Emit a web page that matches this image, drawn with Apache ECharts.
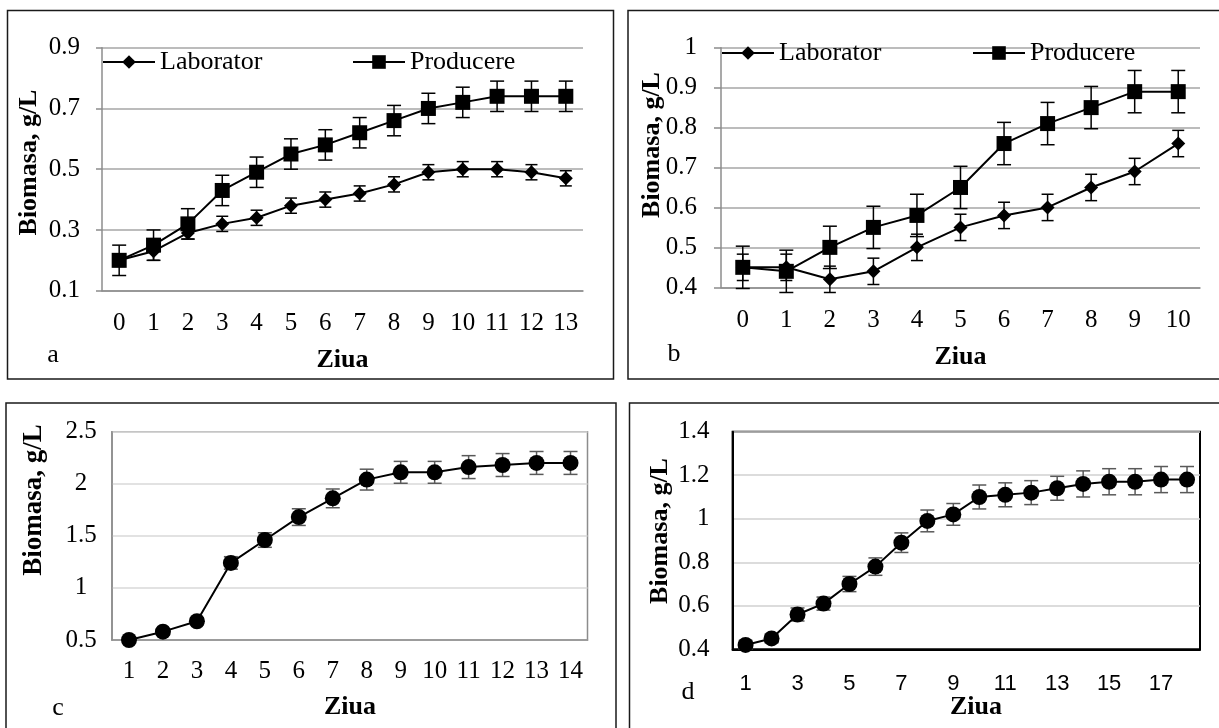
<!DOCTYPE html>
<html>
<head>
<meta charset="utf-8">
<script src="https://cdn.jsdelivr.net/npm/echarts@6/dist/echarts.min.js"></script>
<style>
  html, body { margin: 0; padding: 0; background: #fff; }
  #chart { width: 1219px; height: 728px; }
</style>
</head>
<body>
<div id="chart"></div>
<script>
// panel a
var daysA = ['0', '1', '2', '3', '4', '5', '6', '7', '8', '9', '10', '11', '12', '13'];
var labA = [0.20, 0.23, 0.29, 0.32, 0.34, 0.38, 0.40, 0.42, 0.45, 0.49, 0.50, 0.50, 0.49, 0.47];
var labErrA = [0.02, 0.03, 0.02, 0.025, 0.025, 0.025, 0.025, 0.025, 0.025, 0.025, 0.025, 0.025, 0.025, 0.025];
var prodA = [0.20, 0.25, 0.32, 0.43, 0.49, 0.55, 0.58, 0.62, 0.66, 0.70, 0.72, 0.74, 0.74, 0.74];
var prodErrA = [0.05, 0.05, 0.05, 0.05, 0.05, 0.05, 0.05, 0.05, 0.05, 0.05, 0.05, 0.05, 0.05, 0.05];

// panel b
var daysB = ['0', '1', '2', '3', '4', '5', '6', '7', '8', '9', '10'];
var labB = [0.45, 0.45, 0.42, 0.44, 0.50, 0.55, 0.58, 0.60, 0.65, 0.69, 0.76];
var labErrB = [0.033, 0.033, 0.033, 0.033, 0.033, 0.033, 0.033, 0.033, 0.033, 0.033, 0.033];
var prodB = [0.45, 0.44, 0.50, 0.55, 0.58, 0.65, 0.76, 0.81, 0.85, 0.89, 0.89];
var prodErrB = [0.053, 0.053, 0.053, 0.053, 0.053, 0.053, 0.053, 0.053, 0.053, 0.053, 0.053];

// panel c
var daysC = ['1', '2', '3', '4', '5', '6', '7', '8', '9', '10', '11', '12', '13', '14'];
var biomC = [0.50, 0.58, 0.68, 1.24, 1.46, 1.68, 1.86, 2.04, 2.11, 2.11, 2.16, 2.18, 2.20, 2.20];
var errC = [0.025, 0.03, 0.035, 0.06, 0.07, 0.08, 0.09, 0.10, 0.105, 0.105, 0.11, 0.11, 0.11, 0.11];

// panel d
var daysD = ['1', '2', '3', '4', '5', '6', '7', '8', '9', '10', '11', '12', '13', '14', '15', '16', '17', '18'];
var biomD = [0.42, 0.45, 0.56, 0.61, 0.70, 0.78, 0.89, 0.99, 1.02, 1.10, 1.11, 1.12, 1.14, 1.16, 1.17, 1.17, 1.18, 1.18];
var errD = [0.02, 0.02, 0.03, 0.03, 0.035, 0.04, 0.045, 0.05, 0.05, 0.055, 0.055, 0.055, 0.055, 0.06, 0.06, 0.06, 0.06, 0.06];

var serif = "'Liberation Serif', 'Times New Roman', serif";
var sans = "'Liberation Sans', Arial, sans-serif";

// error bars drawn with the axis scales
function errorBars(vals, errs, idx, color, capW) {
  return {
    type: 'custom',
    xAxisIndex: idx,
    yAxisIndex: idx,
    z: 1,
    silent: true,
    data: vals.map(function (v, i) { return [i, v - errs[i], v + errs[i]]; }),
    encode: { x: 0, y: [1, 2] },
    renderItem: function (params, api) {
      var lo = api.coord([api.value(0), api.value(1)]);
      var hi = api.coord([api.value(0), api.value(2)]);
      var st = { stroke: color, lineWidth: 1.5 };
      return {
        type: 'group',
        children: [
          { type: 'line', shape: { x1: lo[0], y1: lo[1], x2: hi[0], y2: hi[1] }, style: st },
          { type: 'line', shape: { x1: lo[0] - capW, y1: lo[1], x2: lo[0] + capW, y2: lo[1] }, style: st },
          { type: 'line', shape: { x1: hi[0] - capW, y1: hi[1], x2: hi[0] + capW, y2: hi[1] }, style: st }
        ]
      };
    }
  };
}

function lineSeries(name, vals, idx, symbol, size) {
  return {
    name: name,
    type: 'line',
    xAxisIndex: idx,
    yAxisIndex: idx,
    z: 3,
    data: vals,
    symbol: symbol,
    symbolSize: size,
    showAllSymbol: true,
    color: '#000',
    itemStyle: { color: '#000' },
    lineStyle: { color: '#000', width: 2 }
  };
}

function legendItem(name, left, top) {
  return {
    data: [name],
    left: left,
    top: top,
    padding: 0,
    itemWidth: 52,
    itemHeight: 17,
    selectedMode: false,
    textStyle: { fontFamily: serif, fontSize: 26, color: '#000' }
  };
}

function label(text, x, y, font, rot) {
  return {
    type: 'text',
    x: x,
    y: y,
    rotation: rot || 0,
    style: {
      text: text,
      font: font,
      fill: '#000',
      textAlign: 'center',
      textVerticalAlign: 'middle'
    }
  };
}

function frame(x, y, w, h) {
  return {
    type: 'rect',
    shape: { x: x, y: y, width: w, height: h },
    style: { fill: null, stroke: '#1a1a1a', lineWidth: 1.5 },
    z: -1
  };
}

var grayAxis = { lineStyle: { color: '#8c8c8c', width: 1.5 } };
var tickFont = 25;

var myChart = echarts.init(document.getElementById('chart'));
var option = {
  backgroundColor: '#fff',
  animation: false,
  grid: [
    { left: 102, top: 47.7, width: 481, height: 243 },
    { left: 721, top: 47.7, width: 479, height: 239.6 },
    { left: 112, top: 431.7, width: 475.5, height: 208.3, show: true, borderColor: '#8c8c8c', borderWidth: 1.5 },
    { left: 732.6, top: 431.7, width: 467.4, height: 217.6, show: true, borderColor: '#000', borderWidth: 2 }
  ],
  xAxis: [
    {
      gridIndex: 0, type: 'category', data: daysA,
      axisLine: grayAxis,
      axisTick: { length: 6, lineStyle: { color: '#8c8c8c', width: 1.5 } },
      axisLabel: { interval: 0, margin: 20, fontFamily: serif, fontSize: tickFont, color: '#000' }
    },
    {
      gridIndex: 1, type: 'category', data: daysB,
      axisLine: grayAxis,
      axisTick: { length: 6, lineStyle: { color: '#8c8c8c', width: 1.5 } },
      axisLabel: { interval: 0, margin: 21, fontFamily: serif, fontSize: tickFont, color: '#000' }
    },
    {
      gridIndex: 2, type: 'category', data: daysC,
      axisLine: grayAxis,
      axisTick: { length: 8, lineStyle: { color: '#8c8c8c', width: 1.5 } },
      axisLabel: { interval: 0, margin: 19, fontFamily: serif, fontSize: tickFont, color: '#000' }
    },
    {
      gridIndex: 3, type: 'category', data: daysD,
      axisLine: { lineStyle: { color: '#000', width: 2 } },
      axisTick: { interval: 0, length: 8, lineStyle: { color: '#000', width: 1.5 } },
      axisLabel: { interval: 1, margin: 24, fontFamily: sans, fontSize: 22, color: '#000' }
    }
  ],
  yAxis: [
    {
      gridIndex: 0, type: 'value', min: 0.1, max: 0.9, interval: 0.2,
      axisLine: { show: true, lineStyle: { color: '#8c8c8c', width: 1.5 } },
      axisTick: { show: true, length: 6, lineStyle: { color: '#8c8c8c', width: 1.5 } },
      axisLabel: { margin: 22, fontFamily: serif, fontSize: tickFont, color: '#000' },
      splitLine: { lineStyle: { color: '#a6a6a6', width: 1.5 } }
    },
    {
      gridIndex: 1, type: 'value', min: 0.4, max: 1, interval: 0.1,
      axisLine: { show: true, lineStyle: { color: '#8c8c8c', width: 1.5 } },
      axisTick: { show: true, length: 7, lineStyle: { color: '#8c8c8c', width: 1.5 } },
      axisLabel: { margin: 24, fontFamily: serif, fontSize: tickFont, color: '#000' },
      splitLine: { lineStyle: { color: '#a6a6a6', width: 1.5 } }
    },
    {
      gridIndex: 2, type: 'value', min: 0.5, max: 2.5, interval: 0.5,
      axisLine: { show: true, lineStyle: { color: '#8c8c8c', width: 1.5 } },
      axisTick: { show: false },
      axisLabel: { margin: 31, align: 'center', fontFamily: serif, fontSize: tickFont, color: '#000' },
      splitLine: { lineStyle: { color: '#d9d9d9', width: 1.5 } }
    },
    {
      gridIndex: 3, type: 'value', min: 0.4, max: 1.4, interval: 0.2,
      axisLine: { show: true, lineStyle: { color: '#000', width: 2 } },
      axisTick: { show: false },
      axisLabel: { margin: 23, fontFamily: serif, fontSize: tickFont, color: '#000' },
      splitLine: { lineStyle: { color: '#d0d0d0', width: 1.5 } }
    }
  ],
  legend: [
    legendItem('Laborator', 102, 49),
    legendItem('Producere', 352, 49),
    legendItem('Laborator', 721, 40),
    legendItem('Producere', 972, 40)
  ],
  graphic: [
    frame(7.5, 10.5, 606, 368.5),
    frame(628, 10.5, 600, 368.5),
    frame(6, 403, 610, 340),
    frame(629.5, 403, 600, 340),
    label('a', 53, 355, '26px ' + serif),
    label('b', 674, 354, '26px ' + serif),
    label('c', 58, 708, '26px ' + serif),
    label('d', 688, 692, '26px ' + serif),
    label('Ziua', 342.5, 360, 'bold 26px ' + serif),
    label('Ziua', 960.5, 357, 'bold 26px ' + serif),
    label('Ziua', 350, 707, 'bold 26px ' + serif),
    label('Ziua', 976, 707, 'bold 26px ' + serif),
    label('Biomasa, g/L', 29.5, 162.5, 'bold 26px ' + serif, Math.PI / 2),
    label('Biomasa, g/L', 652.5, 145, 'bold 26px ' + serif, Math.PI / 2),
    label('Biomasa, g/L', 34, 500, 'bold 27px ' + serif, Math.PI / 2),
    label('Biomasa, g/L', 660, 531, 'bold 26px ' + serif, Math.PI / 2)
  ],
  series: [
    errorBars(labA, labErrA, 0, '#000', 6),
    errorBars(prodA, prodErrA, 0, '#000', 7),
    lineSeries('Laborator', labA, 0, 'diamond', 14),
    lineSeries('Producere', prodA, 0, 'rect', 15),
    errorBars(labB, labErrB, 1, '#000', 6),
    errorBars(prodB, prodErrB, 1, '#000', 7),
    lineSeries('Laborator', labB, 1, 'diamond', 14),
    lineSeries('Producere', prodB, 1, 'rect', 15),
    errorBars(biomC, errC, 2, '#595959', 7),
    lineSeries('Biomasa C', biomC, 2, 'circle', 16),
    errorBars(biomD, errD, 3, '#595959', 7),
    lineSeries('Biomasa D', biomD, 3, 'circle', 16)
  ]
};
myChart.setOption(option);
</script>
</body>
</html>
